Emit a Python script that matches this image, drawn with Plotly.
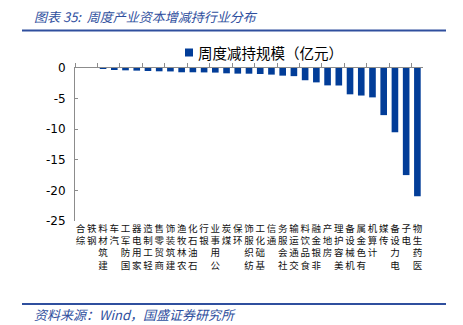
import plotly.graph_objects as go

# 申万一级行业：周度产业资本减持规模（亿元）
industries = [
    "综合", "钢铁", "建筑材料", "汽车", "国防军工", "家用电器", "轻工制造",
    "商贸零售", "建筑装饰", "农林牧渔", "石油石化", "银行", "公用事业", "煤炭",
    "环保", "纺织服饰", "基础化工", "通信", "社会服务", "交通运输", "食品饮料",
    "非银金融", "房地产", "美容护理", "机械设备", "有色金属", "计算机", "传媒",
    "电力设备", "电子", "医药生物",
]
reduction = [
    0.0, 0.0, -0.02, -0.21, -0.38, -0.43, -0.49,
    -0.54, -0.56, -0.70, -0.70, -0.72, -0.75, -0.87,
    -0.92, -0.93, -0.98, -1.08, -1.25, -1.33, -2.00,
    -2.35, -2.84, -2.86, -4.30, -4.50, -4.80, -7.70,
    -10.50, -17.50, -20.95,
]
y_ticks = [0, -5, -10, -15, -20, -25]
y_tick_text = ["0", "-5", "-10", "-15", "-20", "-25"]

series_name = "周度减持规模（亿元）"
title_text = "图表 35:  周度产业资本增减持行业分布"
source_text = "资料来源：Wind，国盛证券研究所"

BAR = "#023D98"
ACCENT = "#2F4F9E"
AXIS = "#8C8C8C"
CJK = "Noto Sans CJK SC"


def stacked(label):
    # characters run upward from the bottom, so the last one sits next to the axis
    return "<br>".join(reversed(label))


tick_labels = [stacked(s) for s in industries]

W, H = 463, 325
M_L, M_R, M_T, M_B = 75, 40, 68, 104
plot_h = H - M_T - M_B
plot_w = W - M_L - M_R


def py(px_y):
    return (H - M_B - px_y) / plot_h


def px(px_x):
    return (px_x - M_L) / plot_w


fig = go.Figure()
fig.add_trace(go.Bar(
    x=industries, y=reduction, name=series_name, showlegend=False,
    marker=dict(color=BAR, line=dict(width=0)),
    xaxis="x", yaxis="y",
))
# helper trace so the top (zero-line) category axis is drawn with its ticks
fig.add_trace(go.Scatter(
    x=industries, y=reduction, mode="markers",
    marker=dict(opacity=0, size=1), showlegend=False, hoverinfo="skip",
    xaxis="x2", yaxis="y",
))

fig.update_layout(
    width=W, height=H,
    margin=dict(l=M_L, r=M_R, t=M_T, b=M_B),
    paper_bgcolor="white", plot_bgcolor="white",
    bargap=0.41,
    font=dict(family=CJK, color="#000000"),
    xaxis=dict(
        type="category", categoryorder="array", categoryarray=industries,
        tickmode="array", tickvals=industries, ticktext=tick_labels,
        range=[-0.5, len(industries) - 0.5],
        showline=False, showgrid=False, zeroline=False, ticks="",
        tickangle=0, tickfont=dict(family=CJK, size=9.5, color="#111111"),
    ),
    xaxis2=dict(
        type="category", categoryorder="array", categoryarray=industries,
        overlaying="x", side="top", matches="x",
        range=[-0.5, len(industries) - 0.5],
        showline=True, linecolor=AXIS, linewidth=1,
        ticks="outside", tickson="boundaries", ticklen=4, tickcolor=AXIS,
        showticklabels=False, showgrid=False, zeroline=False,
    ),
    yaxis=dict(
        range=[-25, 0], tickmode="array", tickvals=y_ticks, ticktext=y_tick_text,
        showline=True, linecolor=AXIS, linewidth=1,
        ticks="inside", ticklen=3, tickcolor=AXIS,
        showgrid=False, zeroline=False,
        tickfont=dict(family="DejaVu Sans", size=12, color="#000000"),
        ticklabelstandoff=6,
    ),
    showlegend=False,
)

# legend key: swatch plus series name
fig.add_shape(
    type="rect", xref="paper", yref="paper",
    x0=px(185), x1=px(193), y0=py(56.5), y1=py(48.5),
    fillcolor=BAR, line=dict(width=0),
)
fig.add_annotation(
    text=series_name, xref="paper", yref="paper",
    x=px(196), y=py(52.5), xanchor="left", yanchor="middle", showarrow=False,
    font=dict(family=CJK, size=14.5, color="#000000"),
)

# heading and source rules
for y_px in (30.5, 304):
    fig.add_shape(
        type="line", xref="paper", yref="paper",
        x0=px(22), x1=px(446), y0=py(y_px), y1=py(y_px),
        line=dict(color=ACCENT, width=2),
    )

fig.add_annotation(
    text="<i>" + title_text + "</i>", xref="paper", yref="paper",
    x=px(32), y=py(16), xanchor="left", yanchor="middle", showarrow=False,
    font=dict(family=CJK, size=13, color=ACCENT),
)
fig.add_annotation(
    text="<i>" + source_text + "</i>", xref="paper", yref="paper",
    x=px(32), y=py(314), xanchor="left", yanchor="middle", showarrow=False,
    font=dict(family=CJK, size=13, color=ACCENT),
)

fig.write_html("out.html")
